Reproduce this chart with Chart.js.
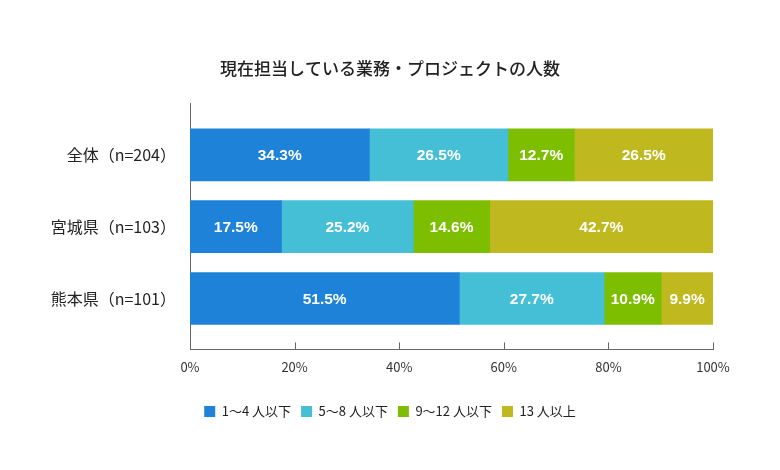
<!DOCTYPE html>
<html><head><meta charset="utf-8">
<script src="https://cdn.jsdelivr.net/npm/chart.js@4"></script>
<style>html,body{margin:0;padding:0;background:#fff}#wrap{width:780px;height:470px}</style>
</head><body><div id="wrap"><canvas id="c" width="780" height="470"></canvas></div>
<script>
const categories = ['全体（n=204）', '宮城県（n=103）', '熊本県（n=101）'];
const seriesNames = ['1～4 人以下', '5～8 人以下', '9～12 人以下', '13 人以上'];
const s1 = [34.3, 17.5, 51.5];
const s2 = [26.5, 25.2, 27.7];
const s3 = [12.7, 14.6, 10.9];
const s4 = [26.5, 42.7, 9.9];
const xTicks = [0, 20, 40, 60, 80, 100];
const colors = ['#1E82D8', '#44BFD6', '#7DBF00', '#BFB81E'];

const seriesValues = [s1, s2, s3, s4];
const datasets = seriesValues.map((vals, k) => ({
  label: seriesNames[k],
  data: vals.map((v, i) => ({x: v, y: i})),
  backgroundColor: colors[k],
  borderWidth: 0,
  barThickness: 52
}));

const labelPlugin = {
  id: 'segLabels',
  afterDatasetsDraw(chart) {
    const ctx = chart.ctx;
    ctx.save();
    ctx.fillStyle = '#fff';
    ctx.font = 'bold 15.5px "Liberation Sans", Arial, sans-serif';
    ctx.textAlign = 'center';
    ctx.textBaseline = 'middle';
    chart.data.datasets.forEach((ds, di) => {
      const meta = chart.getDatasetMeta(di);
      meta.data.forEach((bar, i) => {
        const p = bar.getProps(['x', 'y', 'base'], true);
        const cx = (p.x + p.base) / 2;
        ctx.fillText(seriesValues[di][i].toFixed(1) + '%', cx, p.y + 1);
      });
    });
    ctx.restore();
  }
};

const tickPlugin = {
  id: 'innerTicks',
  afterDraw(chart) {
    const ctx = chart.ctx;
    const xs = chart.scales.x;
    const b = chart.chartArea.bottom;
    ctx.save();
    ctx.strokeStyle = '#666';
    ctx.lineWidth = 1;
    xTicks.forEach(t => {
      if (t === 0) return;
      const px = Math.round(xs.getPixelForValue(t)) + 0.5;
      ctx.beginPath();
      ctx.moveTo(px, b);
      ctx.lineTo(px, b - 7);
      ctx.stroke();
    });
    ctx.restore();
  }
};

new Chart(document.getElementById('c'), {
  type: 'bar',
  data: { datasets },
  plugins: [labelPlugin, tickPlugin],
  options: {
    indexAxis: 'y',
    responsive: false,
    animation: false,
    layout: { padding: { left: 0, right: 0, top: 0, bottom: 42 } },
    scales: {
      x: {
        type: 'linear',
        stacked: true,
        min: 0, max: 100,
        afterBuildTicks(scale) { scale.ticks = xTicks.map(v => ({value: v})); },
        afterFit(scale) { scale.height += 10; },
        grid: { display: false, tickLength: 0 },
        border: { display: true, color: '#666', width: 1 },
        ticks: {
          padding: 10,
          color: '#333',
          font: { family: '"Noto Sans CJK JP", "Noto Sans", sans-serif', size: 13 },
          callback: v => v + '%'
        }
      },
      y: {
        type: 'linear',
        stacked: true,
        reverse: true,
        offset: false,
        min: -0.722,
        max: 2.708,
        afterBuildTicks(scale) { scale.ticks = [0, 1, 2].map(v => ({value: v})); },
        afterFit(scale) { scale.width = 190; },
        grid: { display: false, offset: false },
        border: { display: true, color: '#666', width: 1 },
        ticks: {
          padding: 6,
          color: '#222',
          font: { family: '"Noto Sans CJK JP", sans-serif', size: 16 },
          callback: v => categories[v]
        }
      },
      yRight: {
        type: 'linear',
        position: 'right',
        display: true,
        afterFit(scale) { scale.width = 67; },
        grid: { display: false },
        border: { display: false },
        ticks: { display: false }
      }
    },
    plugins: {
      title: {
        display: true,
        text: '現在担当している業務・プロジェクトの人数',
        color: '#222',
        font: { family: '"Noto Sans CJK JP", sans-serif', size: 17, weight: '500' },
        padding: { top: 58, bottom: 24.6 }
      },
      legend: {
        position: 'bottom',
        labels: {
          boxWidth: 11,
          boxHeight: 11,
          padding: 10,
          color: '#222',
          font: { family: '"Noto Sans CJK JP", sans-serif', size: 13 }
        }
      },
      tooltip: { enabled: false }
    }
  }
});
</script></body></html>
